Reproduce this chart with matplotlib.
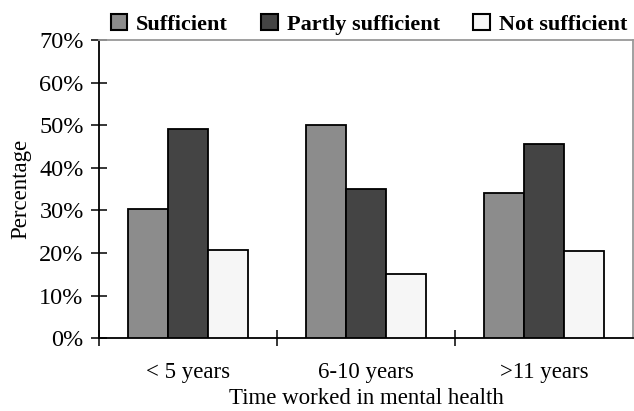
import matplotlib
matplotlib.use("Agg")
import matplotlib.pyplot as plt
import numpy as np
from matplotlib.ticker import FixedLocator, FuncFormatter

categories = ["< 5 years", "6-10 years", ">11 years"]
series_names = ["Sufficient", "Partly sufficient", "Not sufficient"]
sufficient = [30.3, 50.1, 34.1]
partly = [49.1, 35.0, 45.5]
not_sufficient = [20.7, 15.0, 20.5]
colors = ["#8c8c8c", "#444444", "#f6f6f6"]

SERIF = ["Liberation Serif", "DejaVu Serif"]
plt.rcParams["font.family"] = SERIF

fig = plt.figure(figsize=(6.34, 4.11), dpi=100)
ax = fig.add_axes([99 / 634, 72.7 / 411, 534 / 634, 298.3 / 411])

x = np.arange(len(categories)) + 0.5
w = 0.224
for i, (vals, name) in enumerate(zip([sufficient, partly, not_sufficient], series_names)):
    ax.bar(x + (i - 1) * w, vals, width=w, color=colors[i], edgecolor="black",
           linewidth=1.3, label=name, zorder=3)

ax.set_xlim(0, 3)
ax.set_ylim(0, 70)
ax.set_yticks(range(0, 71, 10))
ax.yaxis.set_major_formatter(FuncFormatter(lambda v, p: f"{int(v)}%"))
ax.xaxis.set_major_locator(FixedLocator([0, 1, 2]))
ax.xaxis.set_minor_locator(FixedLocator(list(x)))
ax.set_xticklabels([])
ax.set_xticklabels(categories, minor=True)

ax.tick_params(axis="y", direction="inout", length=11, width=1.1, labelsize=17.5, pad=5.5)
ax.tick_params(axis="x", which="major", direction="inout", length=11, width=1.1)
ax.tick_params(axis="x", which="minor", length=0, labelsize=16.5, pad=17)
for lab in ax.get_yticklabels():
    lab.set_family(SERIF)

for s in ["left", "bottom"]:
    ax.spines[s].set_linewidth(1.3)
    ax.spines[s].set_color("black")
for s in ["top", "right"]:
    ax.spines[s].set_linewidth(1.3)
    ax.spines[s].set_color("#999999")

ax.set_ylabel("Percentage", fontsize=16.5, labelpad=6)
ax.set_xlabel("Time worked in mental health", fontsize=16.5, labelpad=4)

leg = fig.legend(loc="center", bbox_to_anchor=(0.582, 0.94), ncol=3, frameon=False,
                 prop={"family": SERIF, "size": 16, "weight": "bold"},
                 handlelength=0.75, handleheight=0.75,
                 handletextpad=0.4, columnspacing=1.5, borderaxespad=0)
for p in leg.get_patches():
    p.set_linewidth(1.5)

fig.savefig("out.png", dpi=100)
